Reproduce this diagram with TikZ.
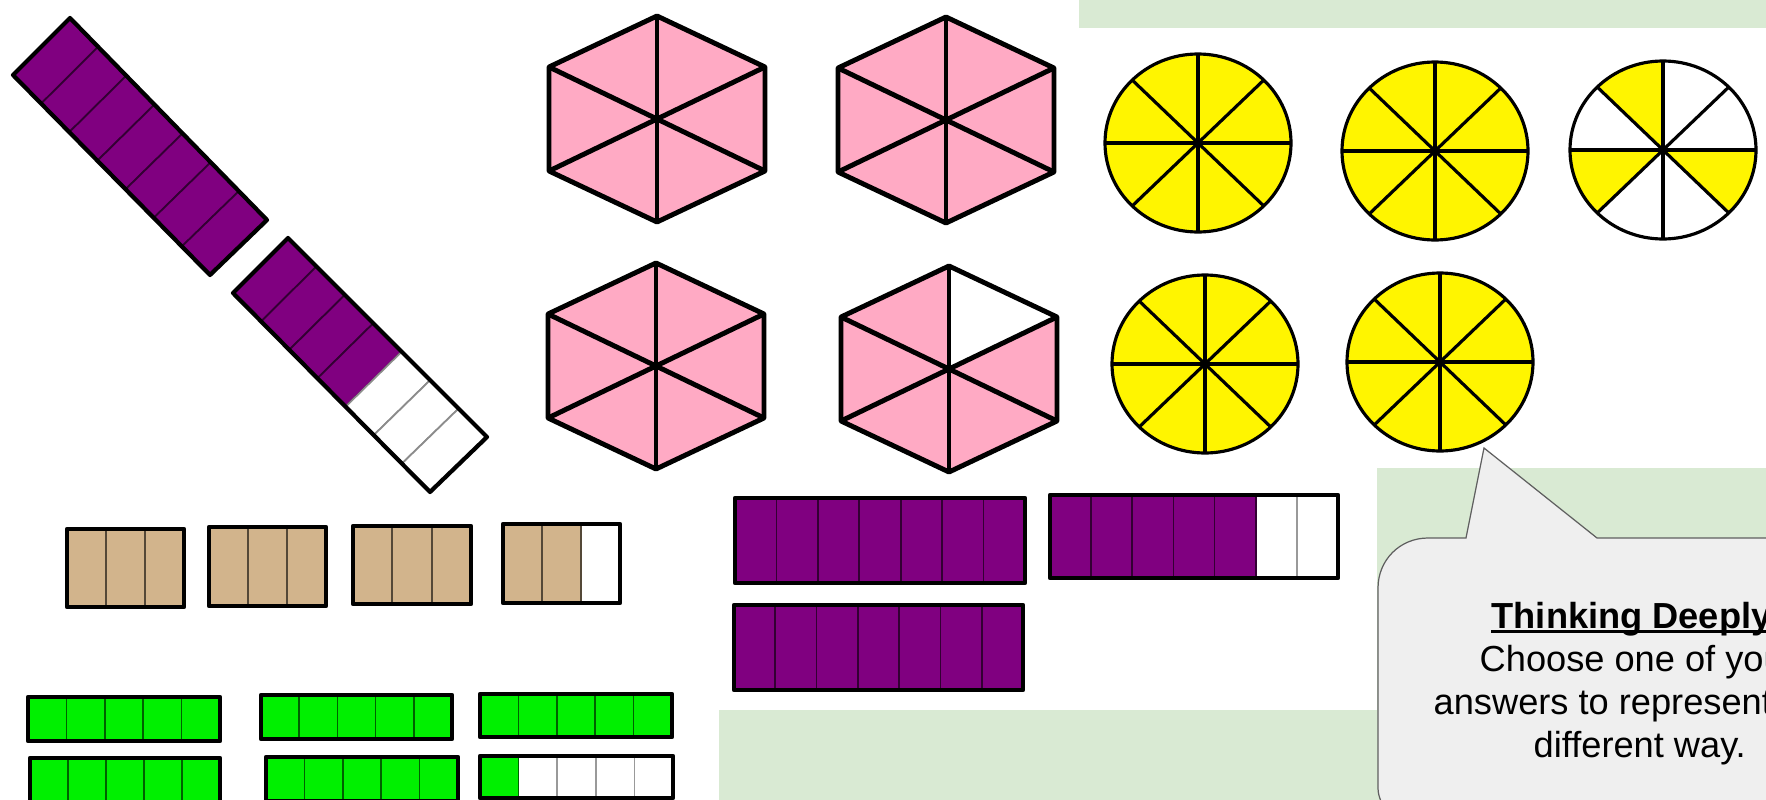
\documentclass[tikz,border=0pt]{standalone}
\usepackage{fontspec}
\setmainfont{Liberation Sans}
\usepackage{tikz}
\usetikzlibrary{calc}
\definecolor{fracPurple}{HTML}{800080}
\definecolor{fracPink}{HTML}{FFAAC4}
\definecolor{fracYellow}{HTML}{FFF500}
\definecolor{fracTan}{HTML}{D2B48C}
\definecolor{fracGreen}{HTML}{00F000}
\definecolor{slideGreen}{HTML}{D9EAD3}
\definecolor{bubbleGrey}{HTML}{EFEFEF}
\definecolor{bubbleEdge}{HTML}{5F5F5F}
\tikzset{
  barrim/.style={draw=black, line width=1.2pt, line join=round},
  barsep/.style={line width=0.5pt},
  hexline/.style={draw=black, line width=1.4pt, line join=round},
  spoke/.style={draw=black, line width=0.9pt},
  panel/.style={fill=slideGreen},
  bubble/.style={fill=bubbleGrey, draw=bubbleEdge, line width=0.35pt},
  bubtext/.style={anchor=base west, inner sep=0pt, font=\fontsize{10.3}{12.4}\selectfont},
}
% x1, y1, x2, y2, parts, shaded parts, colour
\newcommand{\fracbar}[7]{%
  \fill[white] (#1,#2) rectangle (#3,#4);
  \fill[#7] (#1,#2) rectangle ({#1+(#3-#1)*#6/#5},#4);
  \pgfmathtruncatemacro\lastcut{#5-1}
  \foreach \k in {1,...,\lastcut}{
    \ifnum\k>#6 \def\sepcol{black!40}\else\def\sepcol{#7!40!black}\fi
    \draw[barsep, draw=\sepcol] ({#1+(#3-#1)*\k/#5},#2) -- ({#1+(#3-#1)*\k/#5},#4);
  }
  \draw[barrim] (#1,#2) rectangle (#3,#4);
}
% centre x, centre y, 1 = top-right sixth left blank
\newcommand{\hexfrac}[3]{%
  \begin{scope}[shift={(#1,#2)}]
    \fill[fracPink] (0,-103) -- (108,-52) -- (108,52) -- (0,103) -- (-108,52) -- (-108,-52) -- cycle;
    \ifnum#3=1 \fill[white] (0,0) -- (0,-103) -- (108,-52) -- cycle;\fi
    \foreach \vx/\vy in {0/-103,108/-52,108/52,0/103,-108/52,-108/-52}
      \draw[hexline] (0,0) -- (\vx,\vy);
    \draw[hexline] (0,-103) -- (108,-52) -- (108,52) -- (0,103) -- (-108,52) -- (-108,-52) -- cycle;
  \end{scope}}
% centre x, centre y, start angles of the yellow eighths
\newcommand{\eighths}[3]{%
  \begin{scope}[shift={(#1,#2)}]
    \fill[white] (0,0) ellipse [x radius=93, y radius=89];
    \foreach \a [evaluate=\a as \b using \a+45] in {#3}
      \fill[fracYellow] (0,0) -- plot[domain=\a:\b, samples=12] ({93*cos(\x)},{89*sin(\x)}) -- cycle;
    \foreach \a in {0,45,...,315}
      \draw[spoke] (0,0) -- ({93*cos(\a)},{89*sin(\a)});
    \draw[spoke] (0,0) ellipse [x radius=93, y radius=89];
  \end{scope}}

\begin{document}
\begin{tikzpicture}[x=0.01cm, y=-0.01cm]
\useasboundingbox (0,0) rectangle (1766,800);
\clip (0,0) rectangle (1766,800);
\fill[white] (0,0) rectangle (1766,800);

% slide panels
\fill[panel] (1079,0) rectangle (1766,28);
\fill[panel] (1377,468) rectangle (1766,800);
\fill[panel] (719,710) rectangle (1377,800);

% slanted sevenths
\coordinate (ta) at (13,75);
\coordinate (tb) at (70,18);
\coordinate (tc) at (267,220);
\coordinate (td) at (210,275);
\foreach \i in {0,...,6}{
  \pgfmathtruncatemacro\j{\i+1}
  \filldraw[barsep, draw=fracPurple!40!black, fill=fracPurple] ($(ta)!{\i/7}!(td)$) -- ($(tb)!{\i/7}!(tc)$) -- ($(tb)!{\j/7}!(tc)$) -- ($(ta)!{\j/7}!(td)$) -- cycle;
}
\draw[barrim] (ta) -- (tb) -- (tc) -- (td) -- cycle;

\coordinate (sa) at (233,293);
\coordinate (sb) at (288,238);
\coordinate (sc) at (487,437);
\coordinate (sd) at (430,492);
\foreach \i in {0,...,6}{
  \pgfmathtruncatemacro\j{\i+1}
  \ifnum\i<4 \def\cellcol{fracPurple}\def\sepcol{fracPurple!40!black}\else\def\cellcol{white}\def\sepcol{black!45}\fi
  \filldraw[barsep, draw=\sepcol, fill=\cellcol] ($(sa)!{\i/7}!(sd)$) -- ($(sb)!{\i/7}!(sc)$) -- ($(sb)!{\j/7}!(sc)$) -- ($(sa)!{\j/7}!(sd)$) -- cycle;
}
\draw[barrim] (sa) -- (sb) -- (sc) -- (sd) -- cycle;

% hexagons
\hexfrac{657}{119}{0}
\hexfrac{946}{120}{0}
\hexfrac{656}{366}{0}
\hexfrac{949}{369}{1}

% circles
\eighths{1198}{143}{0,45,...,315}
\eighths{1435}{151}{0,45,...,315}
\eighths{1663}{150}{0,135,225}
\eighths{1205}{364}{0,45,...,315}
\eighths{1440}{362}{0,45,...,315}

% thirds
\fracbar{67}{529}{184}{607}{3}{3}{fracTan}
\fracbar{209}{527}{326}{606}{3}{3}{fracTan}
\fracbar{353}{526}{471}{604}{3}{3}{fracTan}
\fracbar{503}{524}{620}{603}{3}{2}{fracTan}

% sevenths
\fracbar{735}{498}{1025}{583}{7}{7}{fracPurple}
\fracbar{734}{605}{1023}{690}{7}{7}{fracPurple}
\fracbar{1050}{495}{1338}{578}{7}{5}{fracPurple}

% fifths
\fracbar{28}{697}{220}{741}{5}{5}{fracGreen}
\fracbar{261}{695}{452}{739}{5}{5}{fracGreen}
\fracbar{480}{694}{672}{737}{5}{5}{fracGreen}
\fracbar{30}{758}{220}{802}{5}{5}{fracGreen}
\fracbar{266}{757}{458}{801}{5}{5}{fracGreen}
\fracbar{480}{756}{673}{798}{5}{1}{fracGreen}

% callout
\coordinate (tip) at (1484,448);
\filldraw[bubble] (1378,788) -- (1378,588) .. controls (1378,560) and (1400,538) .. (1428,538) -- (1466,538) -- (tip) -- (1597,538) -- (1790,538) -- (1790,830) -- (1428,830) .. controls (1400,830) and (1378,808) .. (1378,788) -- cycle;
\node[bubtext, font=\fontsize{10.3}{12.4}\selectfont\bfseries] (think) at (1491,628) {Thinking Deeply};
\draw[line width=0.7pt] ([yshift=-1pt]think.base west) -- ([yshift=-1pt]think.base east);
\node[bubtext] (ask1) at (1479,671) {Choose one of your};
\node[bubtext] (ask2) at (1433,714) {answers to represent};
\node[bubtext] (ask3) at (1533,757) {different way.};
\end{tikzpicture}
\end{document}
